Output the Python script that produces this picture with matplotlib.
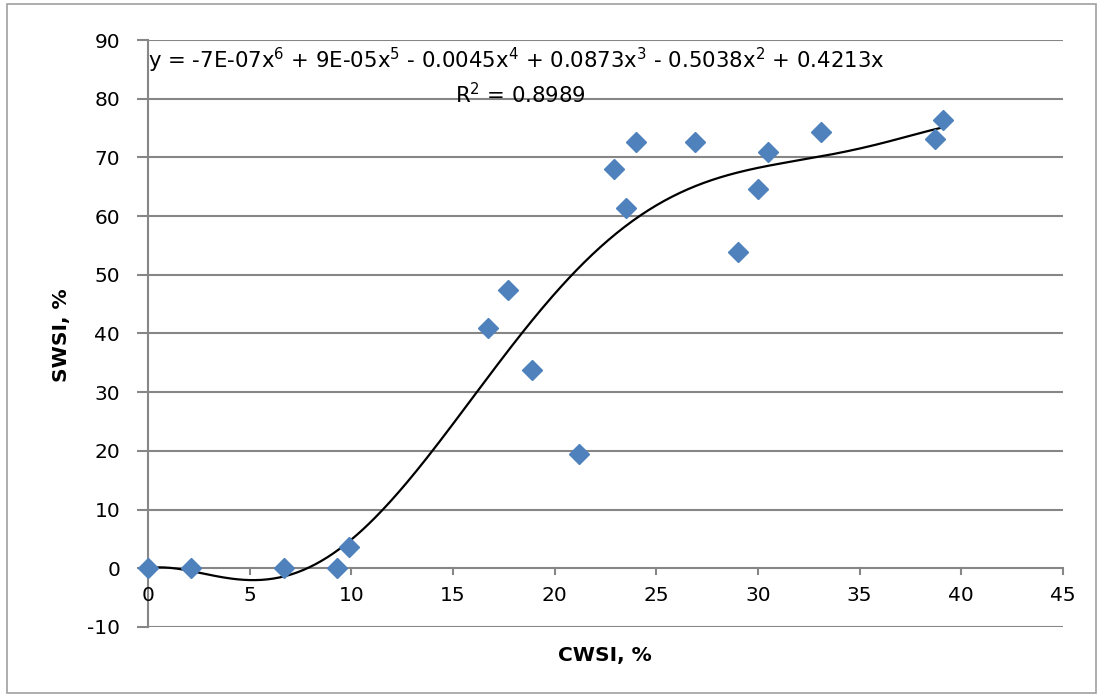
import numpy as np
import matplotlib
matplotlib.use("Agg")
import matplotlib.pyplot as plt
from matplotlib.patches import Rectangle

# Data
cwsi = [0.0, 2.1, 6.7, 9.3, 9.9, 16.7, 17.7, 18.9, 21.2, 22.9, 23.5, 24.0,
        26.9, 29.0, 30.0, 30.5, 33.1, 38.7, 39.1]
swsi = [0.0, 0.0, 0.0, 0.0, 3.7, 40.9, 47.4, 33.7, 19.4, 68.1, 61.3, 72.7,
        72.7, 53.8, 64.6, 70.9, 74.4, 73.1, 76.3]

x_ticks = [0, 5, 10, 15, 20, 25, 30, 35, 40, 45]
y_ticks = [-10, 0, 10, 20, 30, 40, 50, 60, 70, 80, 90]

eq_text = (r"y = -7E-07x$^{6}$ + 9E-05x$^{5}$ - 0.0045x$^{4}$ + 0.0873x$^{3}$"
           r" - 0.5038x$^{2}$ + 0.4213x")
r2_text = r"R$^{2}$ = 0.8989"

FONT = 'DejaVu Sans'
plt.rcParams['font.family'] = [FONT]
plt.rcParams['mathtext.fontset'] = 'custom'
plt.rcParams['mathtext.rm'] = FONT
plt.rcParams['mathtext.it'] = FONT

fig = plt.figure(figsize=(11.02, 6.96), dpi=100)
ax = fig.add_axes([148/1102, 1-627/696, (1063-148)/1102, (627-40)/696])

grid_c = '#868686'
fs = 14.5

# Trendline: 6th order polynomial with zero intercept (least squares)
xa = np.asarray(cwsi)
ya = np.asarray(swsi)
A = np.vstack([xa**k for k in range(1, 7)]).T
coef, *_ = np.linalg.lstsq(A, ya, rcond=None)
xs = np.linspace(0, max(cwsi), 400)
ys = sum(c * xs**k for k, c in zip(range(1, 7), coef))

ax.set_xlim(0, 45)
ax.set_ylim(-10, 90)

for yv in y_ticks:
    if yv != 0:
        ax.axhline(yv, color=grid_c, lw=1.5, zorder=1)

ax.plot(xs, ys, color='black', lw=1.6, zorder=3)
ax.plot(cwsi, swsi, linestyle='none', marker='D', markersize=10.5,
        color='#4F81BD', markeredgecolor='#4F81BD', zorder=4, clip_on=False)

# Spines
for s in ['top', 'right', 'bottom']:
    ax.spines[s].set_visible(False)
ax.spines['left'].set_color(grid_c)
ax.spines['left'].set_linewidth(1.5)

# x-axis line at y=0 with downward ticks
ax.axhline(0, color=grid_c, lw=1.5, zorder=2)
for xv in x_ticks:
    ax.plot([xv, xv], [0, -1.0], color=grid_c, lw=1.5, zorder=2, clip_on=False)
    ax.text(xv, -4.6, str(xv), ha='center', va='center', fontsize=fs,
            color='black')
ax.set_xticks([])

ax.set_yticks(y_ticks)
ax.set_yticklabels([str(v) for v in y_ticks], fontsize=fs)
ax.tick_params(axis='y', direction='out', length=8, width=1.5, color=grid_c,
               pad=12)

ax.text(0.0, 86.5, eq_text, ha='left', va='center', fontsize=15.3)
ax.text(18.3, 80.7, r2_text, ha='center', va='center', fontsize=15.3)

fig.text(605/1102, 1-655/696, "CWSI, %", ha='center', va='center',
         fontsize=14.5, fontweight='bold')
fig.text(62/1102, 1-335/696, "SWSI, %", ha='center', va='center',
         fontsize=14.5, fontweight='bold', rotation=90)

fig.patches.append(Rectangle((7/1102, 3/696), (1096-7)/1102, (692-3)/696,
                             transform=fig.transFigure, fill=False,
                             edgecolor='#A0A0A0', lw=1.2))

fig.savefig('out.png', dpi=100)
